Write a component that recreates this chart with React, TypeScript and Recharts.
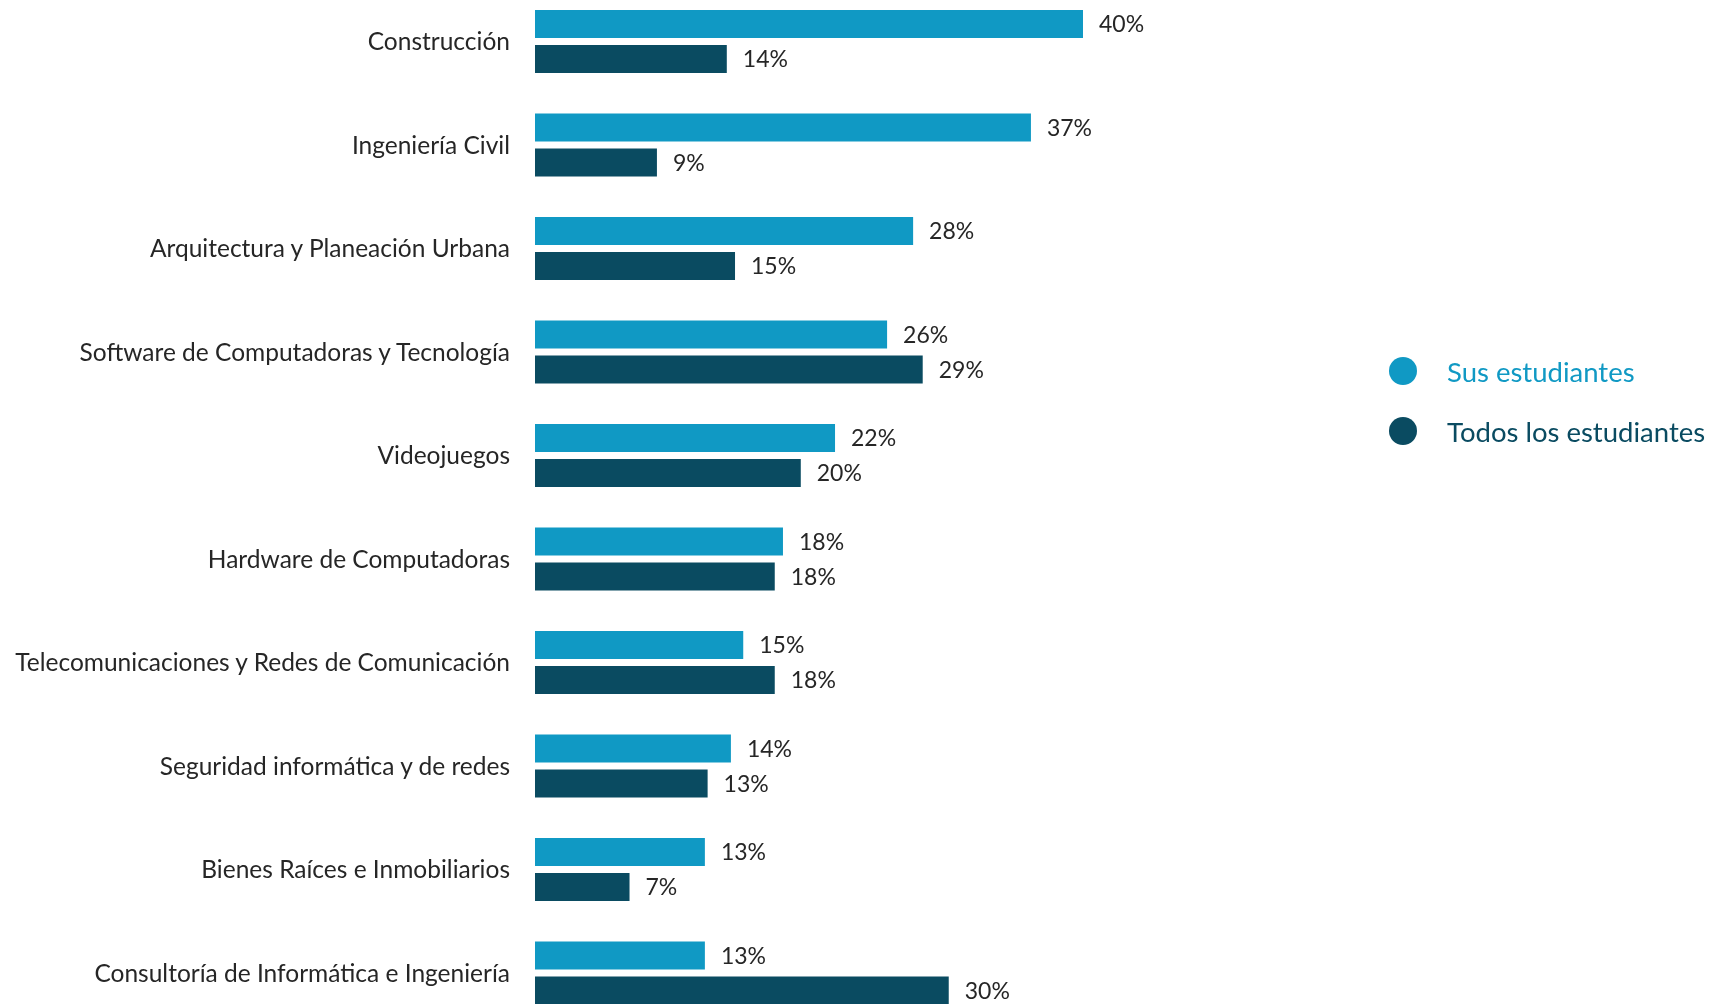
import { Bar, BarChart, LabelList, XAxis, YAxis } from 'recharts'

const COL = {
  sus: '#1099c4',
  todos: '#0a4b61',
  text: '#262626',
}

const FONT = 'Lato, "Noto Sans", sans-serif'

const categories = [
  'Construcción',
  'Ingeniería Civil',
  'Arquitectura y Planeación Urbana',
  'Software de Computadoras y Tecnología',
  'Videojuegos',
  'Hardware de Computadoras',
  'Telecomunicaciones y Redes de Comunicación',
  'Seguridad informática y de redes',
  'Bienes Raíces e Inmobiliarios',
  'Consultoría de Informática e Ingeniería',
]

// bar lengths as drawn in the picture
const susValues = [40, 36.2, 27.6, 25.7, 21.9, 18.1, 15.2, 14.3, 12.4, 12.4]
const todosValues = [14, 8.9, 14.6, 28.3, 19.4, 17.5, 17.5, 12.6, 6.9, 30.2]

// labels as printed next to the bars
const susLabels = ['40%', '37%', '28%', '26%', '22%', '18%', '15%', '14%', '13%', '13%']
const todosLabels = ['14%', '9%', '15%', '29%', '20%', '18%', '18%', '13%', '7%', '30%']

const series = [
  { key: 'sus', label: 'susLabel', name: 'Sus estudiantes', color: COL.sus },
  { key: 'todos', label: 'todosLabel', name: 'Todos los estudiantes', color: COL.todos },
]

const data = categories.map((name, i) => ({
  name,
  sus: susValues[i],
  todos: todosValues[i],
  susLabel: susLabels[i],
  todosLabel: todosLabels[i],
}))

export default function App() {
  return (
    <div
      style={{
        position: 'fixed',
        left: 0,
        top: -10,
        width: 1711,
        height: 1035,
        fontFamily: FONT,
      }}
    >
      <BarChart
        width={1711}
        height={1035}
        data={data}
        layout="vertical"
        barSize={28}
        barGap={7}
        margin={{ top: 0, right: 628, left: 0, bottom: 0 }}
      >
        <XAxis type="number" domain={[0, 40]} hide />
        <YAxis
          type="category"
          dataKey="name"
          width={535}
          axisLine={false}
          tickLine={false}
          tickSize={6}
          tickMargin={19}
          tick={{ fontSize: 24.5, fill: COL.text, fontFamily: FONT }}
        />
        {series.map((s) => (
          <Bar key={s.key} dataKey={s.key} name={s.name} fill={s.color} isAnimationActive={false}>
            <LabelList
              dataKey={s.label}
              position="right"
              offset={16}
              style={{ fontSize: 23, fill: COL.text, fontFamily: FONT }}
            />
          </Bar>
        ))}
      </BarChart>

      <div style={{ position: 'absolute', left: 1389, top: 367 }}>
        {series.map((s) => (
          <div
            key={s.key}
            style={{ display: 'flex', alignItems: 'center', height: 28, marginBottom: 32 }}
          >
            <span
              style={{
                width: 28,
                height: 28,
                borderRadius: '50%',
                background: s.color,
                display: 'inline-block',
              }}
            />
            <span style={{ marginLeft: 30, fontSize: 27.5, color: s.color, whiteSpace: 'nowrap' }}>
              {s.name}
            </span>
          </div>
        ))}
      </div>
    </div>
  )
}
